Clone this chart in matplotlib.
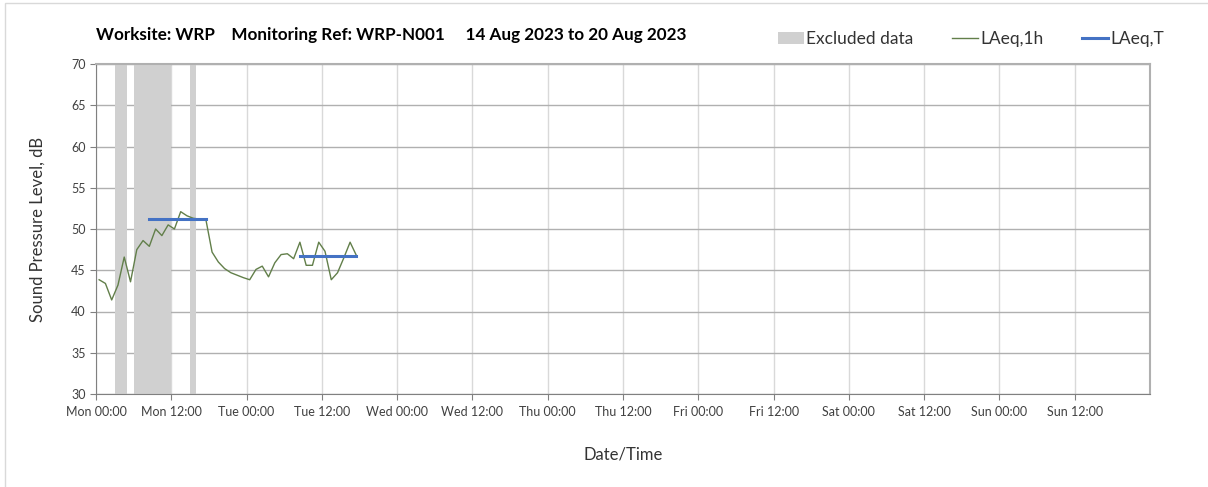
import matplotlib.pyplot as plt
from matplotlib.patches import Patch, Rectangle
from matplotlib.lines import Line2D

plt.rcParams['font.family'] = ['Lato', 'DejaVu Sans']

# hourly LAeq,1h values, plotted at the middle of each hour (hours since Mon 00:00)
laeq_1h = [43.85, 43.4, 41.4, 43.2, 46.6, 43.6, 47.5, 48.6, 47.9, 50.0,
           49.2, 50.5, 50.0, 52.1, 51.6, 51.3, 51.2, 51.2, 47.2, 46.0,
           45.2, 44.7, 44.4, 44.1, 43.85, 45.1, 45.5, 44.2, 45.9, 46.9,
           47.0, 46.4, 48.4, 45.6, 45.6, 48.4, 47.3, 43.85, 44.7, 46.5,
           48.4, 46.8]
hours = [i + 0.5 for i in range(len(laeq_1h))]

# LAeq,T periods: (start hour, end hour, level)
laeq_t = [(8.5, 17.5, 51.2), (32.5, 41.5, 46.75)]

# excluded data periods (start hour, end hour)
excluded = [(3, 5), (6, 12), (15, 16)]

tick_labels = ['Mon 00:00', 'Mon 12:00', 'Tue 00:00', 'Tue 12:00', 'Wed 00:00',
               'Wed 12:00', 'Thu 00:00', 'Thu 12:00', 'Fri 00:00', 'Fri 12:00',
               'Sat 00:00', 'Sat 12:00', 'Sun 00:00', 'Sun 12:00']

fig = plt.figure(figsize=(12.08, 4.87), dpi=100)
fig.patches.append(Rectangle((5 / 1208, -0.05), 1.2, 0.05 + 484 / 487, transform=fig.transFigure,
                             fill=False, edgecolor='#d9d9d9', linewidth=1))
ax = fig.add_axes([96 / 1208, 93 / 487, (1150 - 96) / 1208, (394 - 64) / 487])

for start, end in excluded:
    ax.axvspan(start, end, color='#d0d0d0', linewidth=0, zorder=1)

ax.plot(hours, laeq_1h, color='#627f4a', linewidth=1, zorder=3)
for start, end, level in laeq_t:
    ax.plot([start, end], [level, level], color='#4472c4', linewidth=2.2, zorder=4)

ax.set_xlim(0, 168)
ax.set_ylim(30, 70)
ax.set_xticks(range(0, 168, 12))
ax.set_xticklabels(tick_labels)
ax.set_yticks(range(30, 71, 5))
ax.tick_params(labelsize=9, colors='#404040', length=4, width=0.8)
ax.tick_params(axis='x', pad=5)
ax.tick_params(axis='both', color='#808080')

ax.grid(axis='x', color='#d9d9d9', linewidth=1, zorder=0)
ax.grid(axis='y', color='#b0b0b0', linewidth=1, zorder=0)
ax.set_axisbelow(True)
for side in ['left', 'bottom']:
    ax.spines[side].set_color('#808080')
for side in ['top', 'right']:
    ax.spines[side].set_color('#b0b0b0')
    ax.spines[side].set_linewidth(1.5)

ax.set_ylabel('Sound Pressure Level, dB', fontsize=12, color='#333333', labelpad=18)
ax.set_xlabel('Date/Time', fontsize=12, color='#333333', labelpad=20)

fig.text(96 / 1208, 1 - 35 / 487, 'Worksite: WRP    Monitoring Ref: WRP-N001     14 Aug 2023 to 20 Aug 2023',
         fontsize=12.3, fontweight='bold', va='center', ha='left')

handles = [Patch(facecolor='#d0d0d0', edgecolor='none'),
           Line2D([], [], color='#627f4a', linewidth=1),
           Line2D([], [], color='#4472c4', linewidth=2.2)]
fig.legend(handles, ['Excluded data', 'LAeq,1h', 'LAeq,T'], ncol=3, frameon=False,
           loc='center right', bbox_to_anchor=(1180 / 1208, 1 - 39 / 487),
           fontsize=12.5, handlelength=1.5, handletextpad=0.15, columnspacing=2.2,
           labelcolor='#333333')

fig.savefig('out.png', dpi=100)
